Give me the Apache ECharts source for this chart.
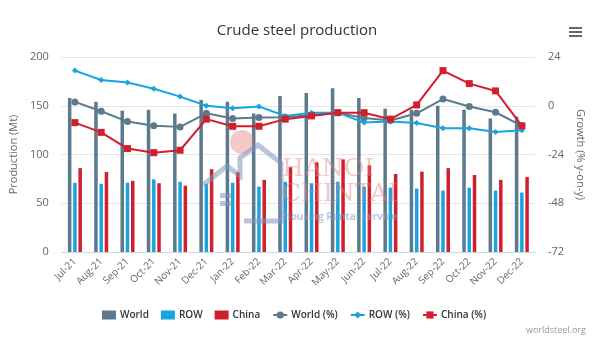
<!DOCTYPE html>
<html>
<head>
<meta charset="utf-8">
<script src="https://cdn.jsdelivr.net/npm/echarts@6/dist/echarts.min.js"></script>
<style>
  html, body { margin: 0; padding: 0; background: #fff; }
  #chart { width: 600px; height: 354px; }
</style>
</head>
<body>
<div id="chart"></div>
<script>
const months = ['Jul-21', 'Aug-21', 'Sep-21', 'Oct-21', 'Nov-21', 'Dec-21', 'Jan-22', 'Feb-22', 'Mar-22',
  'Apr-22', 'May-22', 'Jun-22', 'Jul-22', 'Aug-22', 'Sep-22', 'Oct-22', 'Nov-22', 'Dec-22']

// production, Mt
const world = [158, 154, 145, 146, 142, 156, 154, 142, 160, 163, 168, 158, 147, 146, 150, 146, 137, 139]
const row = [71, 70, 71, 74.5, 72, 70, 71, 67, 72, 70.5, 72, 67, 66, 65, 63, 66, 63, 61]
const china = [86, 82, 73, 70.5, 68, 85, 82, 74, 87, 92, 95, 89, 80, 82.5, 86, 79, 74, 77]

// growth, % y-on-y
const worldPct = [1.9, -2.7, -7.8, -9.8, -10.4, -3.7, -6.3, -5.8, -5.7, -4.5, -3.5, -6, -7.3, -3.7, 3.3, -0.4, -3.2, -9.9]
const rowPct = [17.3, 12.7, 11.4, 8.4, 4.5, 0, -1.2, -0.4, -5, -3.4, -3.4, -8.3, -7.8, -8.5, -11.1, -11.1, -12.9, -12.1]
const chinaPct = [-8.3, -13.1, -21.1, -23.1, -21.9, -6.6, -10.1, -10.1, -6.6, -5, -3.4, -3.4, -6.6, 0.4, 17.3, 10.9, 7.3, -9.9]

const worldColor = '#5b7a8d'
const rowColor = '#1aa3de'
const chinaColor = '#d21f2d'
const font = '"Open Sans", sans-serif'
const houseColor = 'rgba(130,150,190,0.55)'

const myChart = echarts.init(document.getElementById('chart'))

const barStyle = { barWidth: 3.5, barGap: '50%' }

// watermark house outline, one polyline
const housePoints = [[203, 185], [227, 166], [240, 176], [240, 158], [258, 145], [281, 163], [281, 221], [244, 221]]

myChart.setOption({
  animation: false,
  textStyle: { fontFamily: font },
  title: {
    text: 'Crude steel production',
    left: 292,
    textAlign: 'center',
    top: 18,
    textStyle: { fontSize: 15, fontWeight: 'normal', color: '#333', fontFamily: font }
  },
  legend: {
    left: 97,
    top: 305,
    itemWidth: 14,
    itemHeight: 9,
    itemGap: 12,
    textStyle: { fontSize: 10, fontWeight: 600, color: '#333', padding: [0, 0, 0, -1] },
    data: [
      { name: 'World', icon: 'rect' },
      { name: 'ROW', icon: 'rect' },
      { name: 'China', icon: 'rect' },
      'World (%)', 'ROW (%)', 'China (%)'
    ]
  },
  grid: { left: 50, right: 65, top: 57, bottom: 102 },
  xAxis: {
    type: 'category',
    data: months,
    axisLine: { lineStyle: { color: '#ccd6eb' } },
    axisTick: { show: false },
    axisLabel: { rotate: 45, fontSize: 10, color: '#666', margin: 8, interval: 0 }
  },
  yAxis: [
    {
      type: 'value',
      min: 0,
      max: 200,
      interval: 50,
      name: 'Production (Mt)',
      nameLocation: 'middle',
      nameGap: 38,
      nameTextStyle: { color: '#666', fontSize: 11 },
      axisLabel: { color: '#666', fontSize: 11, margin: 13 },
      splitLine: { lineStyle: { color: '#e6e6e6' } }
    },
    {
      type: 'value',
      min: -72,
      max: 24,
      interval: 24,
      name: 'Growth (% y-on-y)',
      nameLocation: 'middle',
      nameRotate: -90,
      nameGap: 40,
      nameTextStyle: { color: '#666', fontSize: 11 },
      axisLabel: { color: '#666', fontSize: 11, margin: 13 },
      splitLine: { show: false }
    }
  ],
  series: [
    { name: 'World', type: 'bar', data: world, itemStyle: { color: worldColor }, ...barStyle },
    { name: 'ROW', type: 'bar', data: row, itemStyle: { color: rowColor }, ...barStyle },
    { name: 'China', type: 'bar', data: china, itemStyle: { color: chinaColor }, ...barStyle },
    {
      name: 'World (%)', type: 'line', yAxisIndex: 1, data: worldPct,
      symbol: 'circle', symbolSize: 7,
      itemStyle: { color: worldColor }, lineStyle: { color: worldColor, width: 2 }, z: 5
    },
    {
      name: 'ROW (%)', type: 'line', yAxisIndex: 1, data: rowPct,
      symbol: 'diamond', symbolSize: 6,
      itemStyle: { color: rowColor }, lineStyle: { color: rowColor, width: 2 }, z: 5
    },
    {
      name: 'China (%)', type: 'line', yAxisIndex: 1, data: chinaPct,
      symbol: 'rect', symbolSize: 7,
      itemStyle: { color: chinaColor }, lineStyle: { color: chinaColor, width: 2 }, z: 5
    }
  ],
  graphic: [
    // menu button
    { type: 'rect', shape: { x: 569, y: 27, width: 13, height: 2 }, style: { fill: '#666' } },
    { type: 'rect', shape: { x: 569, y: 31, width: 13, height: 2 }, style: { fill: '#666' } },
    { type: 'rect', shape: { x: 569, y: 35, width: 13, height: 2 }, style: { fill: '#666' } },
    // credit
    {
      type: 'text', right: 14, top: 326,
      style: { text: 'worldsteel.org', fill: '#999', font: '9px ' + font }
    },
    // watermark
    { type: 'circle', z: 100, silent: true, shape: { cx: 242, cy: 142, r: 12 }, style: { fill: 'rgba(225,120,120,0.4)' } },
    {
      type: 'polyline', z: 100, silent: true,
      shape: { points: housePoints },
      style: { stroke: houseColor, lineWidth: 5, fill: 'none' }
    },
    { type: 'rect', z: 100, silent: true, shape: { x: 220, y: 193, width: 12, height: 5 }, style: { fill: houseColor } },
    { type: 'rect', z: 100, silent: true, shape: { x: 220, y: 201, width: 12, height: 5 }, style: { fill: houseColor } },
    {
      type: 'text', z: 100, silent: true, x: 282, y: 157,
      style: { text: 'HANOI', fill: 'rgba(225,130,130,0.45)', font: '25px "DejaVu Serif", serif' }
    },
    {
      type: 'text', z: 100, silent: true, x: 282, y: 182,
      style: { text: 'CHINTAI', fill: 'rgba(225,130,130,0.45)', font: '25px "DejaVu Serif", serif' }
    },
    {
      type: 'text', z: 100, silent: true, x: 283, y: 212,
      style: { text: 'Housing Rental Service', fill: 'rgba(140,160,195,0.6)', font: 'bold 10px ' + font }
    }
  ]
})
</script>
</body>
</html>
